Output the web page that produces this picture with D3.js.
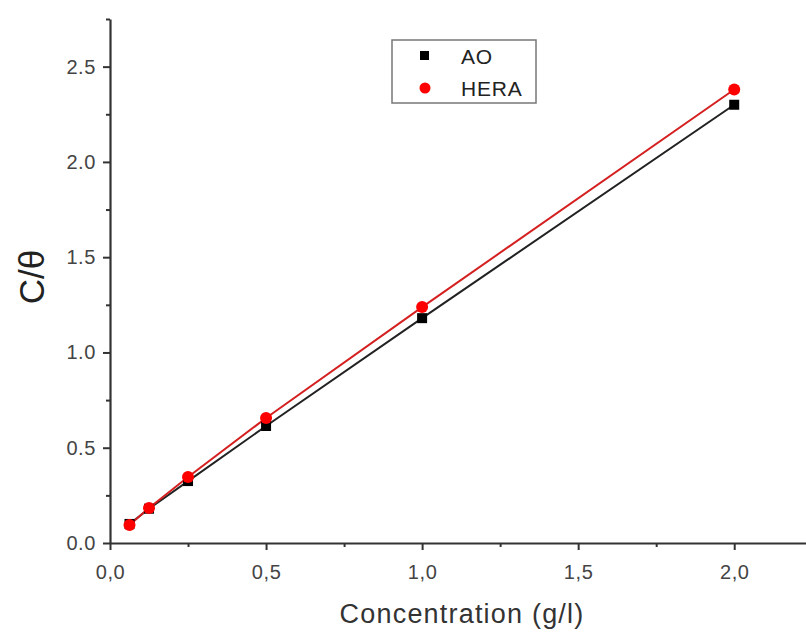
<!DOCTYPE html>
<html>
<head>
<meta charset="utf-8">
<script src="https://cdn.jsdelivr.net/npm/d3@7"></script>
<style>
  body { margin: 0; background: #fff; }
  text { font-family: "Liberation Sans", Arial, sans-serif; }
</style>
</head>
<body>
<svg id="chart" width="806" height="632"></svg>
<script>
// data
const conc = [0.0625, 0.125, 0.25, 0.5, 1.0, 2.0]
const ao = [0.10, 0.18, 0.325, 0.614, 1.18, 2.30]
const hera = [0.095, 0.184, 0.346, 0.656, 1.238, 2.38]
const xTicks = [0, 0.5, 1.0, 1.5, 2.0]
const yTicks = [0, 0.5, 1.0, 1.5, 2.0, 2.5]

const width = 806, height = 632
const m = {left: 110, top: 19, right: 0, bottom: 89}
const svg = d3.select('#chart')

const x = d3.scaleLinear().domain([0, 2.23]).range([m.left, width - m.right])
const y = d3.scaleLinear().domain([0, 2.75]).range([height - m.bottom, m.top])

const axisColor = '#333'
const fmt = d => d.toFixed(1)

// x axis
const gx = svg.append('g').attr('transform', `translate(0,${y(0)})`)
gx.call(d3.axisBottom(x).tickValues(xTicks).tickFormat(d => fmt(d).replace('.', ',')).tickSize(7).tickSizeOuter(0))
gx.append('g').call(d3.axisBottom(x).tickValues([0.25, 0.75, 1.25, 1.75]).tickFormat('').tickSize(4).tickSizeOuter(0))
  .select('.domain').remove()

// y axis
const gy = svg.append('g').attr('transform', `translate(${x(0)},0)`)
gy.call(d3.axisLeft(y).tickValues(yTicks).tickFormat(fmt).tickSize(7).tickSizeOuter(0))
gy.append('g').call(d3.axisLeft(y).tickValues([0.25, 0.75, 1.25, 1.75, 2.25, 2.75]).tickFormat('').tickSize(4).tickSizeOuter(0))
  .select('.domain').remove()

svg.selectAll('.domain').attr('stroke', axisColor).attr('stroke-width', 2.2)
svg.selectAll('.tick line').attr('stroke', axisColor).attr('stroke-width', 2)
svg.selectAll('.tick text').attr('fill', '#444').style('font-size', '20px').style('letter-spacing', '0.6px')
gx.selectAll('.tick text').attr('dy', '1.3em')
gy.selectAll('.tick text').attr('dx', '-0.2em')

// axis titles
svg.append('text').attr('x', 462).attr('y', 623).attr('text-anchor', 'middle')
  .style('font-size', '27px').style('letter-spacing', '1.2px').attr('fill', '#333').text('Concentration (g/l)')
svg.append('text').attr('transform', `translate(44,277) rotate(-90)`)
  .attr('text-anchor', 'middle').style('font-size', '35px').attr('fill', '#222').text('C/θ')

// series
const line = d3.line().x((d, i) => x(conc[i])).y(d => y(d))
svg.append('path').datum(ao).attr('d', line).attr('fill', 'none').attr('stroke', '#222').attr('stroke-width', 2)
svg.append('path').datum(hera).attr('d', line).attr('fill', 'none').attr('stroke', '#d42020').attr('stroke-width', 2)

svg.selectAll('.sq').data(ao).enter().append('rect')
  .attr('x', (d, i) => x(conc[i]) - 5).attr('y', d => y(d) - 5)
  .attr('width', 10).attr('height', 10).attr('fill', '#000')
svg.selectAll('.ci').data(hera).enter().append('circle')
  .attr('cx', (d, i) => x(conc[i])).attr('cy', d => y(d)).attr('r', 6).attr('fill', '#f00')

// legend
const lg = svg.append('g')
lg.append('rect').attr('x', 392).attr('y', 40).attr('width', 144).attr('height', 63)
  .attr('fill', '#fff').attr('stroke', '#777').attr('stroke-width', 1.5)
lg.append('rect').attr('x', 420).attr('y', 51).attr('width', 9).attr('height', 9).attr('fill', '#000')
lg.append('circle').attr('cx', 425).attr('cy', 88).attr('r', 5.5).attr('fill', '#f00')
lg.append('text').attr('x', 461).attr('y', 64).style('font-size', '21px').style('letter-spacing', '0.8px').attr('fill', '#222').text('AO')
lg.append('text').attr('x', 461).attr('y', 96).style('font-size', '21px').style('letter-spacing', '0.8px').attr('fill', '#222').text('HERA')
</script>
</body>
</html>
